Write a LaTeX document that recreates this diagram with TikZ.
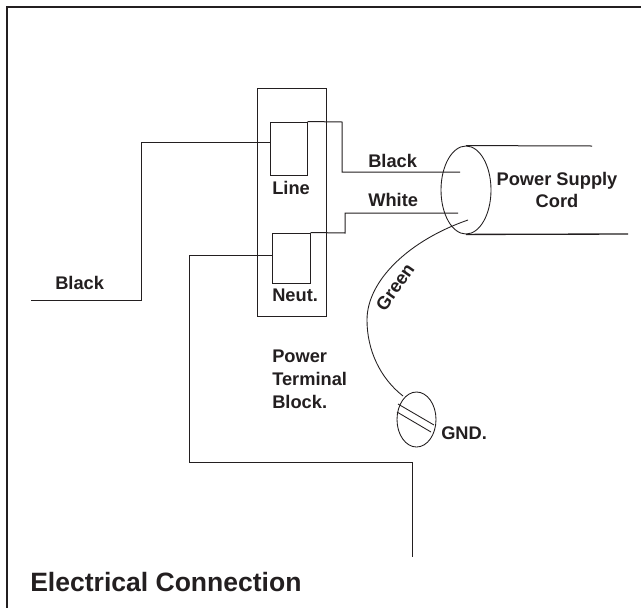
\documentclass[tikz,border=0pt]{standalone}
\usepackage{fontspec}
\setmainfont{Liberation Sans}
\usetikzlibrary{shapes.geometric}
\definecolor{ink}{HTML}{231F20}
\tikzset{
  x=0.75pt,y=-0.75pt,
  wire/.style={draw=ink,line width=0.75pt,line join=miter},
  thinwire/.style={draw=ink,line width=0.65pt},
  lbl/.style={text=ink,font=\bfseries\fontsize{13.7}{17}\selectfont,inner sep=0pt,align=center},
  leftlbl/.style={lbl,align=left,anchor=north west},
  titlelbl/.style={text=ink,font=\bfseries\fontsize{19.9}{24}\selectfont,inner sep=0pt,anchor=base west},
  frameline/.style={draw=ink,line width=1.7pt,line cap=rect},
  oval/.style={ellipse,draw=ink,line width=0.65pt,inner sep=0pt,minimum width=#1},
  boxed/.style={draw=ink,line width=0.75pt,inner sep=0pt},
}
\begin{document}
\begin{tikzpicture}
\useasboundingbox (0,0) rectangle (641,607);
\fill[white] (0,0) rectangle (641,607);
\coordinate (fBL) at (7,607); \coordinate (fTL) at (7,7); \coordinate (fTR) at (641,7);
\draw[frameline] (fBL) -- (fTL) -- (fTR);
% terminal block
\node[boxed,minimum width=51.75pt,minimum height=171pt] (block) at (291.5,202) {};
\node[boxed,minimum width=27.75pt,minimum height=39.75pt] (line) at (288.5,148.5) {};
\node[boxed,minimum width=28.5pt,minimum height=37.5pt] (neut) at (291,258) {};
% cord
\node[oval=37.5pt,minimum height=66pt] (cord) at (466,190) {};
\coordinate (cordTop) at (592,146);
\coordinate (cordBot) at (628,234);
\draw[wire] (cord.north) -- (cordTop);
\draw[wire,line width=1pt] (cord.south) -- (cordBot);
% wires
\coordinate (blackEnd) at (460,172);
\coordinate (whiteEnd) at (458,213);
\draw[wire] (line.north east) -- (342,122) -- (342,172) -- (blackEnd);
\draw[wire] (neut.north east) -- (345,233) -- (345,213) -- (whiteEnd);
\coordinate (inStart) at (31,300);
\draw[wire] (inStart) -- (141,300) -- (141,142) -- (line.west |- 0,142);
\coordinate (outEnd) at (412,557);
\draw[wire] (neut.west |- 0,255) -- (189,255) -- (189,462) -- (412,462) -- (outEnd);
% ground
\node[oval=29.25pt,minimum height=41.25pt] (gnd) at (416.5,419.5) {};
\coordinate (s1a) at (398,404); \coordinate (s1b) at (434,425);
\coordinate (s2a) at (397,412); \coordinate (s2b) at (431,432);
\draw[thinwire] (s1a) -- (s1b);
\draw[thinwire] (s2a) -- (s2b);
\coordinate (greenEnd) at (468,220);
\coordinate (gndTop) at (403,396);
\draw[thinwire] (greenEnd) .. controls (410,240) and (367,280) .. (367,320) .. controls (367,350) and (380,378) .. (gndTop);
% labels
\node[lbl,anchor=base west] (tBlack) at (55,289) {Black};
\node[lbl,anchor=base west] (tBlack2) at (368,167) {Black};
\node[lbl,anchor=base west] (tWhite) at (368,206) {White};
\node[lbl,anchor=base west] (tLine) at (272,194) {Line};
\node[lbl,anchor=base west] (tNeut) at (272,301) {Neut.};
\node[lbl] (tCord) at (557,190) {Power Supply\\Cord};
\node[lbl,anchor=center,rotate=55] (tGreen) at (395,287) {Green};
\node[leftlbl] (tPTB) at (272,350) {Power\\Terminal\\Block.};
\node[lbl,anchor=base west] (tGND) at (441,439) {GND.};
\node[titlelbl] (tTitle) at (30,591) {Electrical Connection};
\end{tikzpicture}
\end{document}
